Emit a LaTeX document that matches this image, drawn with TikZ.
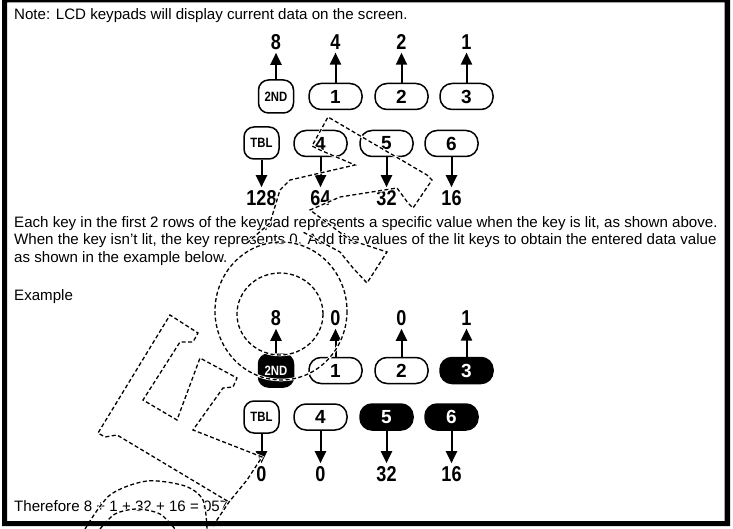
\documentclass[tikz,border=0pt]{standalone}
\usepackage{fontspec}
\usepackage{graphicx}
\setmainfont{Liberation Sans}
\usetikzlibrary{arrows.meta}
\newcommand{\cnd}[1]{\scalebox{0.84}[1]{#1}}
\begin{document}
\begin{tikzpicture}[x=1pt,y=-1pt,
  body/.style={anchor=base west, inner sep=0pt, font=\fontsize{15.1}{17.3}\selectfont},
  num/.style={inner sep=0pt, font=\fontsize{21.5}{21.5}\selectfont\bfseries},
  ovalkey/.style={draw, line width=1.5pt, rounded corners=12pt, minimum width=53pt, minimum height=26pt, inner sep=0pt, font=\fontsize{19}{19}\selectfont\bfseries},
  sqkey/.style={draw, line width=1.5pt, rounded corners=10pt, minimum width=35pt, minimum height=33pt, inner sep=0pt, font=\fontsize{13.5}{13.5}\selectfont\bfseries},
  lit/.style={fill=black, text=white},
  arr/.style={line width=2pt, -{Triangle[width=11pt,length=12pt]}, shorten >=3pt},
  wm/.style={line width=1.3pt, dash pattern=on 4pt off 2.5pt, preaction={draw=white, line width=2.6pt, solid}},
]
\useasboundingbox (0,0) rectangle (733,529);

% ---- texts
\node[body] (note) at (14,19.5) {Note: LCD keypads will display current data on the screen.};
\node[body] (p1) at (14,228) {Each key in the first 2 rows of the keypad represents a specific value when the key is lit, as shown above.};
\node[body] (p2) at (14,245) {When the key isn’t lit, the key represents 0. Add the values of the lit keys to obtain the entered data value};
\node[body] (p3) at (14,262) {as shown in the example below.};
\node[body] (ex) at (14,300) {Example};
\node[body] (th) at (14,511) {Therefore 8 + 1 + 32 + 16 = 057};

% ---- top keypad
\node[sqkey] (a2nd) at (276,96.5) {\cnd{2ND}};
\node[ovalkey] (a1) at (335.5,96.5) {1};
\node[ovalkey] (a2) at (401.5,96.5) {2};
\node[ovalkey] (a3) at (466.5,96.5) {3};
\node[sqkey, minimum height=32pt] (atbl) at (261.5,143) {\cnd{TBL}};
\node[ovalkey] (a4) at (320.5,143.5) {4};
\node[ovalkey] (a5) at (386.5,143.5) {5};
\node[ovalkey] (a6) at (451.5,143.5) {6};

\node[num] (t8) at (276,42) {\cnd{8}};
\node[num] (t4) at (335.5,42) {\cnd{4}};
\node[num] (t2) at (401.5,42) {\cnd{2}};
\node[num] (t1) at (466.5,42) {\cnd{1}};
\node[num] (t128) at (261.5,198) {\cnd{128}};
\node[num] (t64) at (320.5,198) {\cnd{64}};
\node[num] (t32) at (386.5,198) {\cnd{32}};
\node[num] (t16) at (451.5,198) {\cnd{16}};

\foreach \k/\n in {a2nd/t8,a1/t4,a2/t2,a3/t1,atbl/t128,a4/t64,a5/t32,a6/t16}
  \draw[arr] (\k) -- (\n);

% ---- example keypad
\node[sqkey, lit] (b2nd) at (276,370.5) {\cnd{2ND}};
\node[ovalkey] (b1) at (335.5,370.5) {1};
\node[ovalkey] (b2) at (401.5,370.5) {2};
\node[ovalkey, lit] (b3) at (466.5,370.5) {3};
\node[sqkey, minimum height=32pt] (btbl) at (261.5,417) {\cnd{TBL}};
\node[ovalkey] (b4) at (320.5,417) {4};
\node[ovalkey, lit] (b5) at (386.5,417) {5};
\node[ovalkey, lit] (b6) at (451.5,417) {6};

\node[num] (e8) at (276,318) {\cnd{8}};
\node[num] (e0a) at (335.5,318) {\cnd{0}};
\node[num] (e0b) at (401.5,318) {\cnd{0}};
\node[num] (e1) at (466.5,318) {\cnd{1}};
\node[num] (e0c) at (261.5,474) {\cnd{0}};
\node[num] (e0d) at (320.5,474) {\cnd{0}};
\node[num] (e32) at (386.5,474) {\cnd{32}};
\node[num] (e16) at (451.5,474) {\cnd{16}};

\foreach \k/\n in {b2nd/e8,b1/e0a,b2/e0b,b3/e1,btbl/e0c,b4/e0d,b5/e32,b6/e16}
  \draw[arr] (\k) -- (\n);

% ---- dashed watermark outlines
\draw[wm] (247,243) -- (270,223) -- (280,190) -- (290,180) -- (355,165) -- (320,150) -- (312,146) -- (328,117) -- (427,175) -- (432,180) -- (413,208) -- (408,203) -- (397,188) -- (340,197) -- (310,210) -- (350,240) -- (387,252) -- (367,283) -- (353,268) -- (340,252) -- (303,232);
\draw[wm] (281,311) ellipse [x radius=66, y radius=69];
\draw[wm] (280,314) ellipse [x radius=43, y radius=41];
\draw[wm] (213,526) -- (229,502) -- (247,480) -- (262,457) -- (257,455) -- (193,430) -- (223,388) -- (233,387) -- (237,378) -- (200,358) -- (177,420) -- (143,400) -- (180,342) -- (193,342) -- (198,333) -- (170,315) -- (98,433) -- (105,437) -- (117,435) -- (229,502);
\draw[wm] plot[smooth] coordinates {(85,529) (110,495) (147,481) (185,486) (203,500) (207,529)};
\draw[wm] plot[smooth] coordinates {(100,529) (115,514) (137,509) (160,514) (175,529)};

% ---- frame
\fill[black, even odd rule] (2,0) rectangle (730,526) (7,2.5) rectangle (724.5,521);
\end{tikzpicture}
\end{document}
